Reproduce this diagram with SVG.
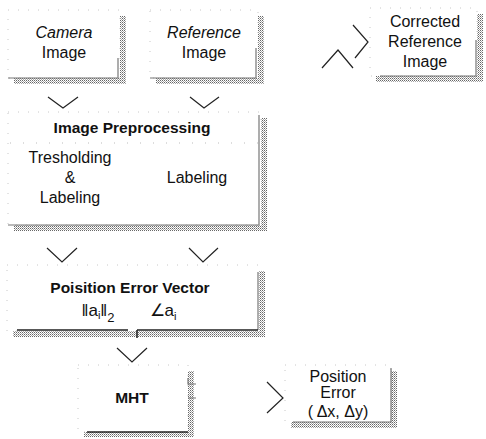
<svg xmlns="http://www.w3.org/2000/svg" width="486" height="439" viewBox="0 0 486 439">
  <defs>
    <!-- stippled drop shadow -->
    <pattern id="stipple" width="2" height="2" patternUnits="userSpaceOnUse">
      <rect width="2" height="2" fill="#fff"/>
      <rect width="1" height="1" fill="#666"/>
      <rect x="1" y="1" width="1" height="1" fill="#aaa"/>
    </pattern>
  </defs>
  <style>
    .shadow { fill: url(#stipple); }
    .box { fill: #fff; stroke: #c8c8c8; stroke-width: 1; stroke-dasharray: 1 9; }
    .edge { fill: none; stroke: #777; stroke-width: 1.2; }
    .dark { fill: none; stroke: #222; stroke-width: 1.5; }
    .div { fill: none; stroke: #bbb; stroke-width: 1; stroke-dasharray: 1 12; }
    .t { font-family: "Liberation Sans", Arial, sans-serif; font-size: 16px; fill: #111; text-anchor: middle; }
    .b { font-weight: bold; font-size: 15.5px; }
    .i { font-style: italic; }
    .arrow { fill: none; stroke: #222; stroke-width: 1.2; stroke-linejoin: miter; }
  </style>
  <rect width="486" height="439" fill="#fff"/>

  <!-- Camera Image -->
  <g id="camera-image">
    <rect class="shadow" x="14" y="16" width="112" height="68"/>
    <rect class="box" x="8" y="10" width="112" height="68"/>
    <path class="edge" d="M118,58 V78 H8"/>
    <text class="t i" x="64" y="38">Camera</text>
    <text class="t" x="64" y="58">Image</text>
  </g>

  <!-- Reference Image -->
  <g id="reference-image">
    <rect class="shadow" x="156" y="16" width="108" height="68"/>
    <rect class="box" x="150" y="10" width="108" height="68"/>
    <path class="edge" d="M256,48 V78 H150"/>
    <text class="t i" x="204" y="38">Reference</text>
    <text class="t" x="204" y="58">Image</text>
  </g>

  <!-- Corrected Reference Image -->
  <g id="corrected-reference-image">
    <rect class="shadow" x="376" y="14" width="107" height="68"/>
    <rect class="box" x="370" y="8" width="107" height="68"/>
    <path class="edge" d="M476,40 V76 H380"/>
    <text class="t" x="425" y="27">Corrected</text>
    <text class="t" x="425" y="47">Reference</text>
    <text class="t" x="425" y="67">Image</text>
  </g>

  <!-- Image Preprocessing -->
  <g id="image-preprocessing">
    <rect class="shadow" x="14" y="118" width="253" height="113"/>
    <rect class="box" x="8" y="112" width="253" height="113"/>
    <path class="edge" d="M259,115 V225 H8"/>
    <line class="div" x1="10" y1="143" x2="258" y2="143"/>
    <text class="t b" x="132" y="133">Image Preprocessing</text>
    <text class="t" x="70" y="163">Tresholding</text>
    <text class="t" x="70" y="183">&amp;</text>
    <text class="t" x="70" y="203">Labeling</text>
    <text class="t" x="197" y="183">Labeling</text>
  </g>

  <!-- Poisition Error Vector -->
  <g id="position-error-vector">
    <rect class="shadow" x="13" y="271" width="252" height="66"/>
    <rect class="box" x="7" y="265" width="252" height="66"/>
    <path class="edge" d="M258,272 V330"/>
    <path class="dark" d="M17,330 H128 M137,330 H258 M137,330 V338"/>
    <text class="t b" x="130" y="293">Poisition Error Vector</text>
    <text class="t" x="98" y="316" style="font-size:17px">‖a<tspan style="font-size:11px" dy="3">i</tspan><tspan dy="-3">‖</tspan><tspan style="font-size:13px" dy="6">2</tspan></text>
    <text class="t" x="163" y="316" style="font-size:17px">∠a<tspan style="font-size:11px" dy="4">i</tspan></text>
  </g>

  <!-- MHT -->
  <g id="mht">
    <rect class="shadow" x="84" y="371" width="110" height="66"/>
    <rect class="box" x="78" y="365" width="110" height="67"/>
    <path class="edge" d="M188,378 V384 H196 M188,398 H196"/>
    <path class="dark" d="M87,432 H188"/>
    <text class="t b" x="132" y="403">MHT</text>
  </g>

  <!-- Position Error -->
  <g id="position-error">
    <rect class="shadow" x="291" y="371" width="106" height="57"/>
    <rect class="box" x="285" y="365" width="106" height="57"/>
    <path class="edge" d="M391,368 V422 H293"/>
    <text class="t" x="338" y="382">Position</text>
    <text class="t" x="338" y="398">Error</text>
    <text class="t" x="338" y="417">( Δx, Δy)</text>
  </g>

  <!-- connectors: open chevron heads -->
  <g id="connectors">
    <polyline class="arrow" points="48,97 63,108 78,97"/>
    <polyline class="arrow" points="190,97 204,108 219,97"/>
    <polyline class="arrow" points="353,25 368,42 355,58"/>
    <polyline class="arrow" points="322,68 338,50 353,68"/>
    <polyline class="arrow" points="47,248 62,262 77,248"/>
    <polyline class="arrow" points="189,248 203,262 218,248"/>
    <polyline class="arrow" points="117,348 132,362 147,348"/>
    <polyline class="arrow" points="267,382 283,398 267,413"/>
  </g>
</svg>
